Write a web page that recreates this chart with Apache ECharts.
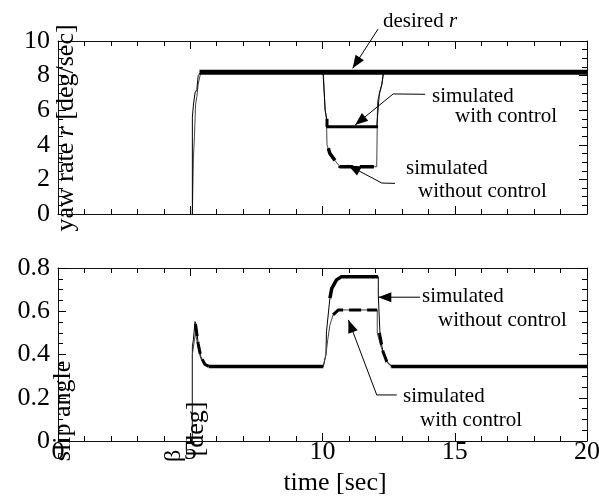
<!DOCTYPE html>
<html><head><meta charset="utf-8">
<script src="https://cdn.jsdelivr.net/npm/echarts@6/dist/echarts.min.js"></script>
<style>html,body{margin:0;padding:0;background:#fff}#c{width:599px;height:501px}</style>
</head><body><div id="c"></div>
<script>
// ---- data (time [sec], value) ----
const xTicks = [0, 5, 10, 15, 20];
const yawTicks = [0, 2, 4, 6, 8, 10];
const slipTicks = [0, 0.2, 0.4, 0.6, 0.8];

const yawDesired = [[5.35, 8.2], [20, 8.2]];
const yawWithCtrl = [[5.08,0],[5.08,5.6],[5.12,6.3],[5.18,7.0],[5.25,7.2],[5.3,8.0],[5.4,8.2],[10.02,8.2],[10.1,6.0],[10.15,5.6],[10.17,5.5],[10.17,5.05],[12.05,5.05],[12.1,6.0],[12.15,7.0],[12.25,7.5],[12.3,8.2],[20,8.2]];
const yawWithoutCtrl = [[5.08,0],[5.12,3.3],[5.16,4.5],[5.2,6.3],[5.25,6.8],[5.3,7.5],[5.4,8.2],[10.03,8.2],[10.1,6.0],[10.15,5.5],[10.17,4.0],[10.28,3.5],[10.47,3.1],[10.66,2.73],[12.05,2.73],[12.08,6.5],[12.2,7.2],[12.32,8.2],[20,8.2]];
const yawWithCtrlBold = [[10.17,5.5],[10.17,5.05],[12.1,5.05]];
const yawWithoutCtrlBold = [[10.22,3.8],[10.28,3.5],[10.47,3.1],[10.66,2.73],[12.1,2.73]];

const slipWithoutCtrl = [[5.08,0],[5.08,0.436],[5.12,0.47],[5.18,0.552],[5.22,0.54],[5.3,0.45],[5.4,0.39],[5.55,0.355],[5.7,0.345],[10.03,0.345],[10.13,0.40],[10.15,0.505],[10.28,0.66],[10.35,0.706],[10.53,0.745],[10.72,0.76],[12.11,0.76],[12.11,0.675],[12.18,0.475],[12.29,0.413],[12.43,0.367],[12.63,0.345],[20,0.345]];
const slipWithCtrl = [[5.08,0],[5.08,0.40],[5.15,0.46],[5.2,0.50],[5.3,0.43],[5.4,0.38],[5.6,0.35],[5.7,0.345],[10.03,0.345],[10.13,0.40],[10.2,0.47],[10.28,0.536],[10.4,0.583],[10.6,0.606],[12.07,0.606],[12.07,0.50],[12.2,0.44],[12.35,0.39],[12.5,0.355],[12.63,0.345],[20,0.345]];
const slipSteadyBold = [[5.7,0.345],[10.03,0.345]];
const slipSteadyBold2 = [[12.6,0.345],[20,0.345]];
const slipDecayBold = [[5.2,0.54],[5.3,0.45],[5.4,0.39],[5.55,0.355],[5.7,0.345]];
const slipWithoutCtrlBold = [[10.28,0.66],[10.35,0.706],[10.53,0.745],[10.72,0.76],[12.1,0.76]];
const slipWithCtrlBold = [[10.4,0.583],[10.6,0.606],[12.07,0.606]];
const slipFallBold = [[12.15,0.5],[12.29,0.413],[12.43,0.367],[12.6,0.345]];

// ---- annotation anchors (data coords) ----
const notes = [
  {grid:0, path:[[12.1,10.69],[11.14,8.42]]},
  {grid:0, path:[[13.88,6.92],[12.67,6.94],[11.23,5.14]]},
  {grid:0, path:[[12.74,1.77],[12.24,1.79],[10.96,2.83]]},
  {grid:1, path:[[13.69,0.665],[12.11,0.665]]},
  {grid:1, path:[[12.81,0.213],[12.05,0.213],[10.98,0.56]]}
];
const labels = [
  {x:383, y:21.5, rich:true},
  {x:432, y:96, t:'simulated'}, {x:455, y:116, t:'with control'},
  {x:406, y:168, t:'simulated'}, {x:418, y:191, t:'without control'},
  {x:422, y:296, t:'simulated'}, {x:438, y:320, t:'without control'},
  {x:403, y:396, t:'simulated'}, {x:420, y:420, t:'with control'}
];

const FONT = '"Liberation Serif", "Times New Roman", serif';
const chart = echarts.init(document.getElementById('c'), null, {renderer:'canvas'});

function xAx(grid, pos, labelsOn) {
  return {type:'value', gridIndex:grid, position:pos, min:xTicks[0], max:xTicks[xTicks.length-1], interval:xTicks[1]-xTicks[0],
    axisLine:{show:true, onZero:false, lineStyle:{color:'#111', width:1}},
    axisTick:{show:true, inside:true, length:8, lineStyle:{color:'#000', width:1}},
    minorTick:{show:true, splitNumber:5, length:5, lineStyle:{color:'#000', width:1}},
    splitLine:{show:false}, minorSplitLine:{show:false},
    axisLabel:{show:labelsOn, color:'#000', fontFamily:FONT, fontSize:26, margin:-2}};
}
function yAx(grid, pos, ticks, labelsOn) {
  return {type:'value', gridIndex:grid, position:pos, min:ticks[0], max:ticks[ticks.length-1], interval:ticks[1]-ticks[0],
    axisLine:{onZero:false, show:true, lineStyle:{color:'#111', width:1}},
    axisTick:{show:true, inside:true, length:8, lineStyle:{color:'#000', width:1}},
    minorTick:{show:true, splitNumber:4, length:5, lineStyle:{color:'#000', width:1}},
    splitLine:{show:false}, minorSplitLine:{show:false},
    axisLabel:{show:labelsOn, color:'#000', fontFamily:FONT, fontSize:26, margin:8}};
}
function ln(data, xi, yi, w, color, type) {
  return {type:'line', data:data, xAxisIndex:xi, yAxisIndex:yi, symbol:'none', animation:false, silent:true,
    lineStyle:{width:w, color:color||'#000', type:type||'solid'}};
}

chart.setOption({
  animation:false,
  grid:[{left:58, right:12, top:41, height:173, outerBoundsMode:'none', containLabel:false},
        {left:58, right:12, top:268, height:173, outerBoundsMode:'none', containLabel:false}],
  xAxis:[xAx(0,'bottom',false), xAx(0,'top',false), xAx(1,'bottom',true), xAx(1,'top',false)],
  yAxis:[yAx(0,'left',yawTicks,true), yAx(0,'right',yawTicks,false), yAx(1,'left',slipTicks,true), yAx(1,'right',slipTicks,false)],
  series:[
    ln(yawWithoutCtrl,0,0,1,'#444'),
    ln(yawWithCtrl,0,0,1,'#000'),
    ln(yawDesired,0,0,5,'#000'),
    ln(yawWithCtrlBold,0,0,3,'#000'),
    ln(yawWithoutCtrlBold,0,0,3.5,'#000','dashed'),
    ln(slipWithoutCtrl,2,2,1,'#000'),
    ln(slipWithCtrl,2,2,1,'#444'),
    ln(slipSteadyBold,2,2,3.5,'#000'),
    ln(slipSteadyBold2,2,2,3.5,'#000'),
    ln(slipDecayBold,2,2,3,'#000','dashed'),
    ln(slipWithoutCtrlBold,2,2,3.5,'#000'),
    ln(slipWithCtrlBold,2,2,3,'#000','dashed'),
    ln(slipFallBold,2,2,3,'#000','dashed')
  ]
});

const g = [];
notes.forEach(n => {
  const px = n.path.map(p => chart.convertToPixel({gridIndex:n.grid}, p));
  g.push({type:'polyline', shape:{points:px}, style:{stroke:'#000', lineWidth:1, fill:null}, z:100});
  const a = px[px.length-2], b = px[px.length-1];
  const dx = b[0]-a[0], dy = b[1]-a[1], L = Math.hypot(dx,dy), ux = dx/L, uy = dy/L;
  const len = 13, hw = 5;
  const bx = b[0]-ux*len, by = b[1]-uy*len;
  g.push({type:'polygon', shape:{points:[b,[bx-uy*hw, by+ux*hw],[bx+uy*hw, by-ux*hw]]}, style:{fill:'#000'}, z:100});
});
labels.forEach(l => {
  if (l.rich) {
    g.push({type:'text', x:l.x, y:l.y, z:100, style:{text:'{a|desired }{i|r}', verticalAlign:'middle', align:'left',
      rich:{a:{fontFamily:FONT, fontSize:21, fill:'#000'}, i:{fontFamily:FONT, fontSize:21, fontStyle:'italic', fill:'#000'}}}});
  } else {
    g.push({type:'text', x:l.x, y:l.y, z:100, style:{text:l.t, fontFamily:FONT, fontSize:21, fill:'#000', verticalAlign:'middle', align:'left'}});
  }
});
// axis titles
g.push({type:'text', x:66, y:128, rotation:Math.PI/2, z:100, style:{text:'{a|yaw rate }{i|r}{a| [deg/sec]}', align:'center', verticalAlign:'middle',
  rich:{a:{fontFamily:FONT, fontSize:26, fill:'#000'}, i:{fontFamily:FONT, fontSize:26, fontStyle:'italic', fill:'#000'}}}});
g.push({type:'text', x:63, y:411, rotation:Math.PI/2, z:100, style:{text:'slip angle', fontFamily:FONT, fontSize:26, fill:'#000', align:'center', verticalAlign:'middle'}});
g.push({type:'text', x:174, y:456, rotation:Math.PI/2, z:100, style:{text:'β', fontFamily:FONT, fontSize:24, fill:'#000', align:'center', verticalAlign:'middle'}});
g.push({type:'text', x:196, y:429, rotation:Math.PI/2, z:100, style:{text:'[deg]', fontFamily:FONT, fontSize:26, fill:'#000', align:'center', verticalAlign:'middle'}});
g.push({type:'text', x:335, y:483, z:100, style:{text:'time [sec]', fontFamily:FONT, fontSize:26, fill:'#000', align:'center', verticalAlign:'middle'}});
chart.setOption({graphic:g});
</script></body></html>
